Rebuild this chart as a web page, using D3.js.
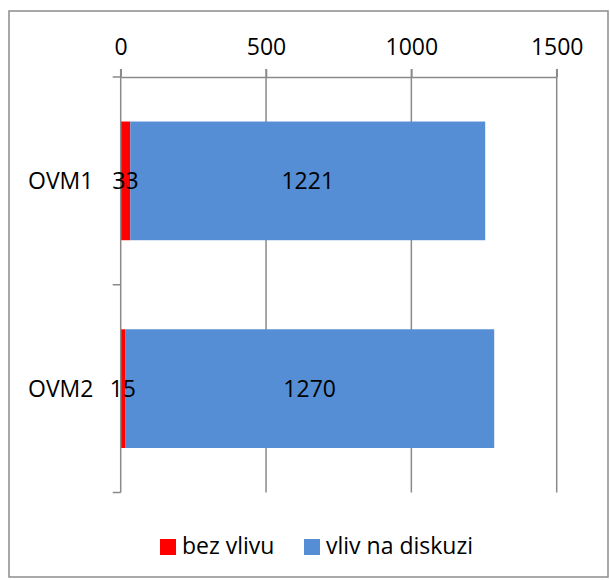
<!DOCTYPE html>
<html>
<head>
<meta charset="utf-8">
<script src="https://cdn.jsdelivr.net/npm/d3@7"></script>
<style>
  body { margin: 0; background: #fff; }
  text { font-family: "Open Sans", sans-serif; fill: #000; }
</style>
</head>
<body>
<div id="chart"></div>
<script>
var categories = ['OVM1', 'OVM2']
var bezVlivu = [33, 15]
var vlivNaDiskuzi = [1221, 1270]
var seriesNames = ['bez vlivu', 'vliv na diskuzi']
var seriesColors = ['#ff0000', '#558ed5']
var xTicks = [0, 500, 1000, 1500]

window.onload = function(){

  var w = 610
  var h = 580
  var fs = '23px'
  var svg = d3.select('div#chart').append('svg')
  svg.attr('width', w).attr('height', h)

  // outer frame
  svg.append('rect').attr('x', 9).attr('y', 11).attr('width', 599).attr('height', 566)
    .attr('fill', 'none').attr('stroke', '#8c8c8c').attr('stroke-width', 1.5)

  var left = 120.7, right = 556.7, top = 77, bottom = 492.5

  var x = d3.scaleLinear().domain([0, 1500]).range([left, right])
  var y = d3.scaleBand().domain(categories).range([top, bottom])
    .paddingInner(0.75/1.75).paddingOuter(0.75/3.5)

  var grid = '#8a8a8a'

  // vertical gridlines
  svg.selectAll('line.grid').data(xTicks.slice(1)).enter().append('line')
    .attr('class', 'grid')
    .attr('x1', d => x(d)).attr('x2', d => x(d))
    .attr('y1', top - 8).attr('y2', bottom)
    .attr('stroke', grid).attr('stroke-width', 1.5)

  // stacked bars
  var stack = categories.map((c, i) => ({ cat: c, a: bezVlivu[i], b: vlivNaDiskuzi[i] }))

  svg.selectAll('rect.red').data(stack).enter().append('rect')
    .attr('x', x(0)).attr('y', d => y(d.cat))
    .attr('width', d => x(d.a) - x(0)).attr('height', y.bandwidth())
    .attr('fill', seriesColors[0])

  svg.selectAll('rect.blue').data(stack).enter().append('rect')
    .attr('x', d => x(d.a)).attr('y', d => y(d.cat))
    .attr('width', d => x(d.a + d.b) - x(d.a)).attr('height', y.bandwidth())
    .attr('fill', seriesColors[1])

  // x axis on top
  var xAxis = svg.append('g').attr('transform', 'translate(0,' + top + ')')
    .call(d3.axisTop(x).tickValues(xTicks).tickFormat(d3.format('d'))
      .tickSize(8).tickSizeOuter(0).tickPadding(14))
  xAxis.select('.domain').attr('stroke', grid).attr('stroke-width', 1.5)
  xAxis.selectAll('.tick line').attr('stroke', grid).attr('stroke-width', 1.5)
  xAxis.selectAll('.tick text').style('font-family', '"Open Sans", sans-serif')
    .style('font-size', fs).attr('fill', '#000')

  // category axis line at zero
  svg.append('line').attr('x1', x(0)).attr('x2', x(0)).attr('y1', top - 8).attr('y2', bottom)
    .attr('stroke', grid).attr('stroke-width', 1.5)

  // category ticks on band boundaries
  var bounds = categories.map(c => y(c) - y.step() * y.paddingInner() / 2)
  bounds.push(y.range()[1])
  svg.selectAll('line.ctick').data(bounds).enter().append('line')
    .attr('x1', x(0) - 8).attr('x2', x(0))
    .attr('y1', d => d).attr('y2', d => d)
    .attr('stroke', grid).attr('stroke-width', 1.5)

  // category labels
  svg.selectAll('text.cat').data(categories).enter().append('text')
    .attr('x', 28).attr('y', d => y(d) + y.bandwidth() / 2 + 8)
    .style('font-size', fs).text(d => d)

  // data labels
  svg.selectAll('text.la').data(stack).enter().append('text')
    .attr('x', d => (x(0) + x(d.a)) / 2).attr('y', d => y(d.cat) + y.bandwidth() / 2 + 8)
    .attr('text-anchor', 'middle').style('font-size', fs).text(d => d.a)

  svg.selectAll('text.lb').data(stack).enter().append('text')
    .attr('x', d => (x(d.a) + x(d.a + d.b)) / 2).attr('y', d => y(d.cat) + y.bandwidth() / 2 + 8)
    .attr('text-anchor', 'middle').style('font-size', fs).text(d => d.b)

  // legend
  var legX = [160, 304]
  seriesNames.forEach(function(name, i){
    svg.append('rect').attr('x', legX[i]).attr('y', 539).attr('width', 16).attr('height', 16)
      .attr('fill', seriesColors[i])
    svg.append('text').attr('x', legX[i] + 22).attr('y', 554).style('font-size', fs).text(name)
  })
}
</script>
</body>
</html>
